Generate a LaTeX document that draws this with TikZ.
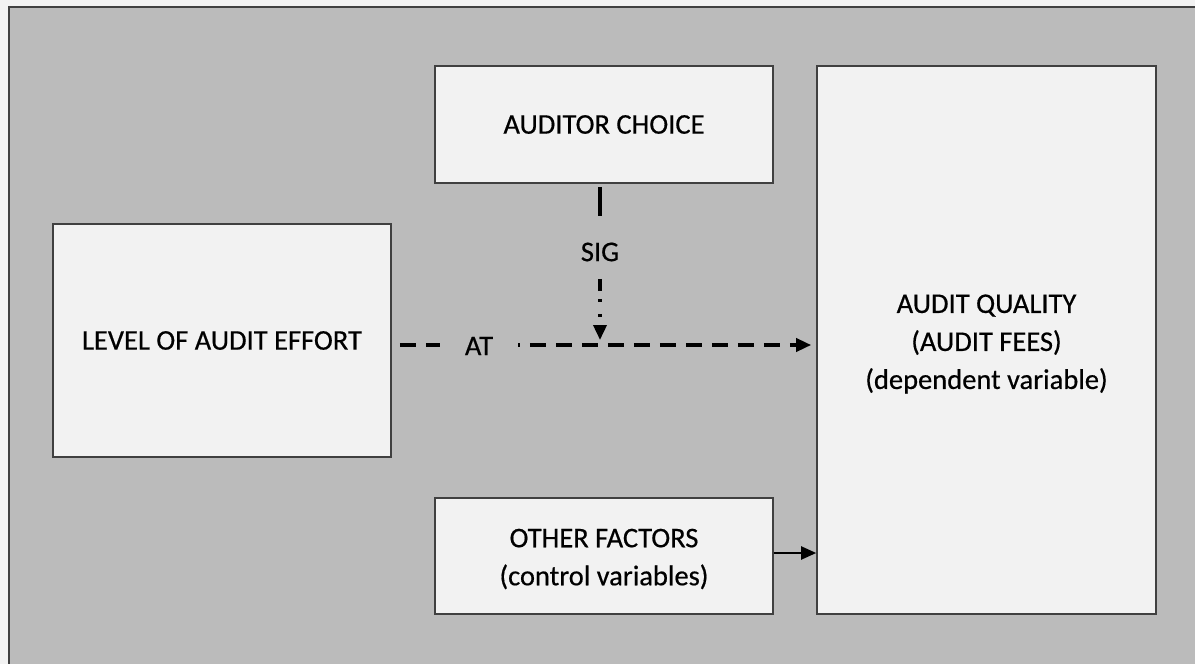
\documentclass[tikz,border=0pt]{standalone}
\usepackage{fontspec}
\setmainfont{Carlito}[FakeBold=0.5]
\usetikzlibrary{arrows.meta,calc}
\definecolor{panel}{HTML}{BBBBBB}
\definecolor{boxfill}{HTML}{F2F2F2}
\definecolor{edge}{HTML}{404040}
\tikzset{
  varbox/.style={draw=edge, line width=1.6pt, fill=boxfill, align=center,
    inner sep=0pt, font=\fontsize{28.5}{38}\selectfont},
  txt/.style={align=center, inner sep=0pt, font=\fontsize{28.5}{38}\selectfont},
  tip/.style={-{Triangle[length=15pt,width=13pt]}},
  dashline/.style={tip, line width=3.5pt, dash pattern=on 16pt off 10pt},
  lbl/.style={font=\fontsize{28.5}{30}\selectfont, inner sep=0pt}
}
\begin{document}
\begin{tikzpicture}[x=1pt,y=-1pt]
\useasboundingbox (0,0) rectangle (1195,664);
\fill[boxfill] (0,0) rectangle (1195,664);
\filldraw[fill=panel, draw=edge, line width=2pt] (9,7) rectangle (1210,680);

\node[varbox, minimum width=338pt, minimum height=117pt] (ac) at (604,124.5) {AUDITOR CHOICE};
\node[varbox, minimum width=338pt, minimum height=233pt] (le) at (222,340.5) {LEVEL OF AUDIT EFFORT};
\node[varbox, minimum width=338pt, minimum height=116pt] (of) at (604,556) {};
\node[txt] (oft) at ([yshift=-3pt]of.center) {OTHER FACTORS\\(control variables)};
\node[varbox, minimum width=339pt, minimum height=548pt] (aq) at (986.5,340) {};
\node[txt] (aqt) at ([yshift=-4pt]aq.center) {AUDIT QUALITY\\(AUDIT FEES)\\(dependent variable)};

% main relation: effort -> quality
\coordinate (hs) at ([xshift=8pt,yshift=-4.5pt]le.east);
\coordinate (he) at ([xshift=-5pt]aq.west |- hs);
\draw[dashline] (hs) -- (he);
\node[lbl, fill=panel, minimum width=78pt, minimum height=20pt] (at) at (479,346) {AT};

% moderating effect of auditor choice
\coordinate (vs) at ([xshift=-4pt,yshift=-3pt]ac.south);
\coordinate (m) at (vs |- hs);
\draw[tip, line width=3.5pt,
  dash pattern=on 29pt off 63pt on 12pt off 8pt on 3pt off 12pt on 3pt off 30pt]
  (vs) -- ([yshift=5pt]m);
\node[lbl] (sig) at (600,252) {SIG};

% control variables
\coordinate (cs) at ([yshift=3pt]of.east);
\draw[tip, line width=2pt] (cs) -- (aq.west |- cs);
\end{tikzpicture}
\end{document}
